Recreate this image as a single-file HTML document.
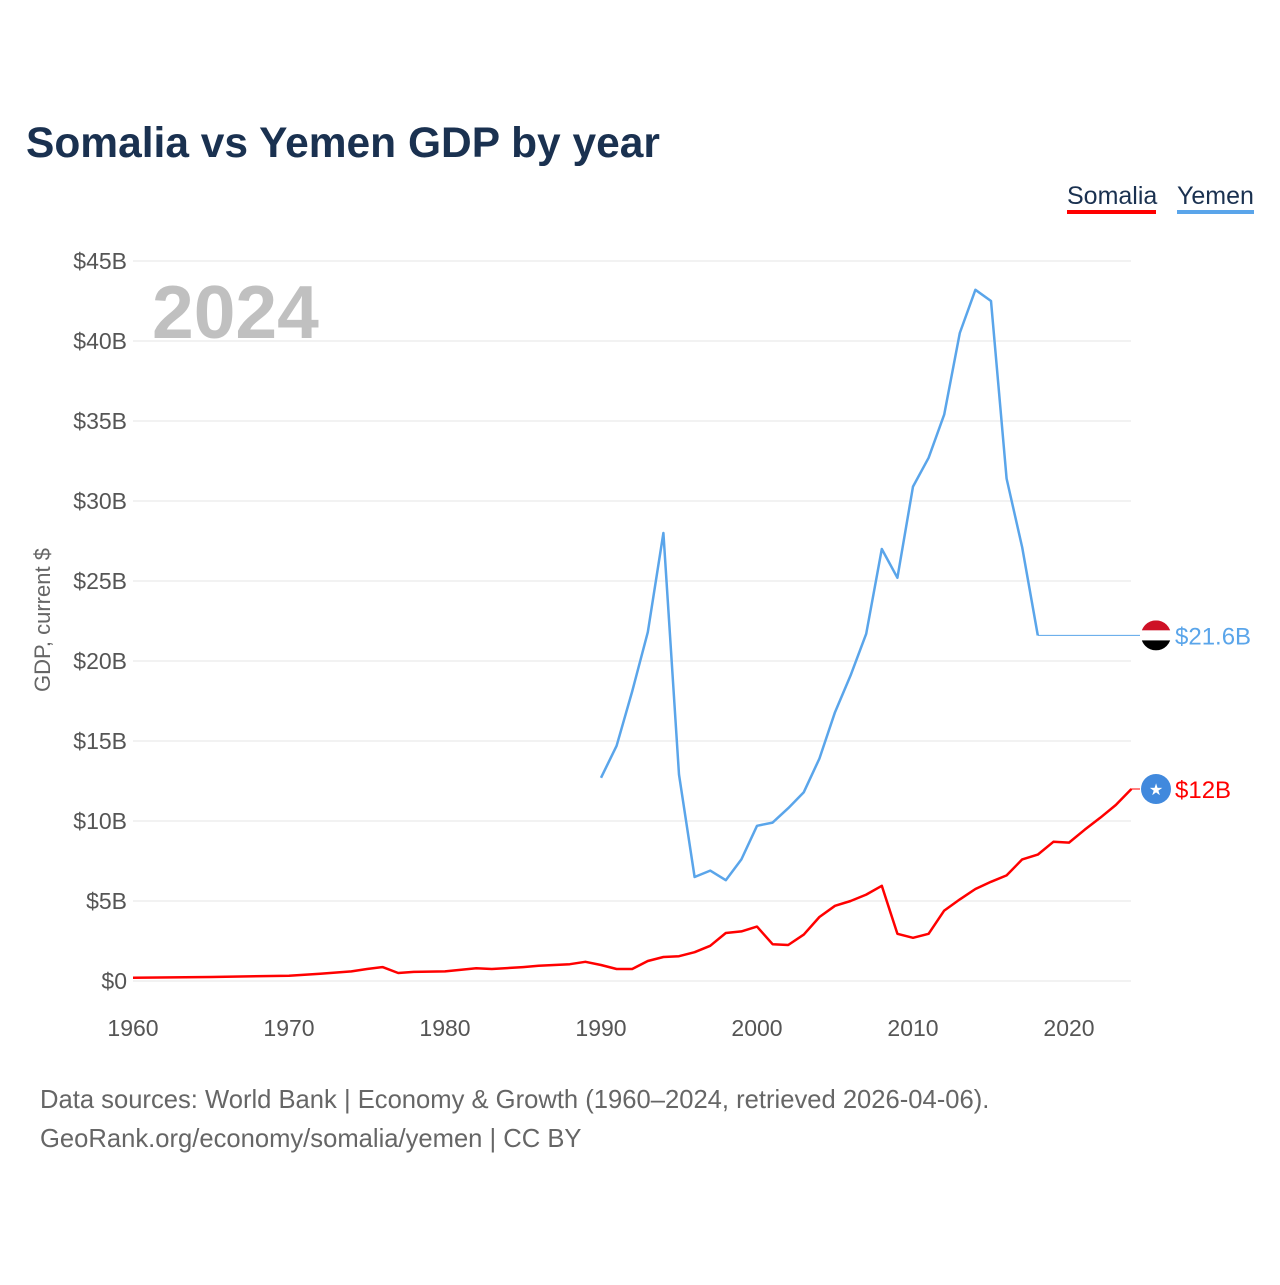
<!DOCTYPE html>
<html><head><meta charset="utf-8"><style>
body{margin:0;background:#fff;font-family:"Liberation Sans",sans-serif;}
svg text{font-family:"Liberation Sans",sans-serif;}
</style></head><body>
<svg width="1280" height="1280" viewBox="0 0 1280 1280">
<text x="26" y="157" font-size="42.5" font-weight="bold" fill="#1a3150">Somalia vs Yemen GDP by year</text>
<g><text x="1067" y="204" font-size="25" fill="#1a3150">Somalia</text><rect x="1067" y="210" width="89" height="4" fill="#ff0000"/></g>
<g><text x="1177" y="204" font-size="25" fill="#1a3150">Yemen</text><rect x="1177" y="210" width="77" height="4" fill="#5aa5ea"/></g>
<text x="152" y="338" font-size="75" font-weight="bold" fill="#c0c0c0">2024</text>
<text transform="translate(50,620) rotate(-90)" text-anchor="middle" font-size="22" fill="#666">GDP, current $</text>
<g id="grid"></g><g id="xt"></g><g id="lines"></g>
<text x="40" y="1108" font-size="25.6" fill="#666">Data sources: World Bank | Economy &amp; Growth (1960–2024, retrieved 2026-04-06).</text>
<text x="40" y="1147" font-size="25.6" fill="#666">GeoRank.org/economy/somalia/yemen | CC BY</text>
</svg>
<script>
const yTicks=[0,5,10,15,20,25,30,35,40,45];
const xTicks=[1960,1970,1980,1990,2000,2010,2020];
const somaliaYears=[1960,1965,1970,1972,1974,1975,1976,1977,1978,1980,1982,1983,1985,1986,1987,1988,1989,1990,1991,1992,1993,1994,1995,1996,1997,1998,1999,2000,2001,2002,2003,2004,2005,2006,2007,2008,2009,2010,2011,2012,2013,2014,2015,2016,2017,2018,2019,2020,2021,2022,2023,2024];
const somaliaVals=[0.2,0.25,0.33,0.45,0.6,0.75,0.87,0.5,0.57,0.6,0.8,0.75,0.87,0.95,1.0,1.05,1.2,1.0,0.75,0.75,1.25,1.5,1.55,1.8,2.2,3.0,3.1,3.4,2.3,2.25,2.9,4.0,4.7,5.0,5.4,5.95,2.95,2.7,2.95,4.4,5.1,5.75,6.2,6.6,7.6,7.9,8.7,8.65,9.45,10.2,11.0,12.0];
const yemenYears=[1990,1991,1992,1993,1994,1995,1996,1997,1998,1999,2000,2001,2002,2003,2004,2005,2006,2007,2008,2009,2010,2011,2012,2013,2014,2015,2016,2017,2018];
const yemenVals=[12.7,14.7,18.1,21.8,28.0,12.9,6.5,6.9,6.3,7.6,9.7,9.9,10.8,11.8,13.9,16.8,19.1,21.7,27.0,25.2,30.9,32.7,35.4,40.5,43.2,42.5,31.4,27.1,21.6];
const yemenLast=21.6, somaliaLast=12.0;
const X=y=>133+(y-1960)*15.6, Y=v=>981-v*16;
const NS="http://www.w3.org/2000/svg";
function mk(t,a,p){const e=document.createElementNS(NS,t);for(const k in a)e.setAttribute(k,a[k]);p.appendChild(e);return e;}
const g=document.getElementById('grid');
yTicks.forEach(v=>{
 const l=mk('line',{x1:133,x2:1131,y1:Y(v),y2:Y(v),stroke:'#e6e6e6','stroke-width':1},g);
 
 
 const t=mk('text',{x:127,y:Y(v)+8,'text-anchor':'end','font-size':23,fill:'#555'},g);
 
 
 t.textContent='$'+v+(v?'B':'');
});
const xt=document.getElementById('xt');
xTicks.forEach(v=>{
 const t=mk('text',{x:X(v),y:1036,'text-anchor':'middle','font-size':23,fill:'#555'},xt);
 
 
 t.textContent=v;
});
const L=document.getElementById('lines');
const pts=(ys,vs)=>ys.map((y,i)=>X(y)+','+Y(vs[i])).join(' ');
const ye=mk('polyline',{points:pts(yemenYears,yemenVals),fill:'none',stroke:'#5aa5ea','stroke-width':2.5,'stroke-linejoin':'round'},L);


const yx=mk('line',{x1:X(2018),x2:1140,y1:Y(yemenLast),y2:Y(yemenLast),stroke:'#5aa5ea','stroke-width':1},L);


const so=mk('polyline',{points:pts(somaliaYears,somaliaVals),fill:'none',stroke:'#ff0000','stroke-width':2.5,'stroke-linejoin':'round'},L);


mk('line',{x1:1131,x2:1140,y1:Y(somaliaLast),y2:Y(somaliaLast),stroke:'#ff0000','stroke-width':1},L);
const fy=Y(yemenLast);
const fg=mk('g',{},L);


mk('clipPath',{id:'fc'},fg);
mk('circle',{cx:1156,cy:fy,r:15},document.getElementById('fc'));
mk('rect',{x:1140,y:fy-15,width:32,height:10,fill:'#ce1126','clip-path':'url(#fc)'},fg);
mk('rect',{x:1140,y:fy-5,width:32,height:10,fill:'#fff','clip-path':'url(#fc)'},fg);
mk('rect',{x:1140,y:fy+5,width:32,height:10,fill:'#000','clip-path':'url(#fc)'},fg);
const yl=mk('text',{x:1175,y:fy+9,'font-size':24,fill:'#5aa5ea'},L);


yl.textContent='$'+yemenLast+'B';
const sy=Y(somaliaLast);
const sf=mk('circle',{cx:1156,cy:sy,r:15,fill:'#4189dd'},L);


const st=mk('text',{x:1156,y:sy+6,'text-anchor':'middle','font-size':16,fill:'#fff'},L);st.textContent='★';
const sl=mk('text',{x:1175,y:sy+9,'font-size':24,fill:'#ff0000'},L);


sl.textContent='$'+somaliaLast+'B';
</script>
</body></html>
